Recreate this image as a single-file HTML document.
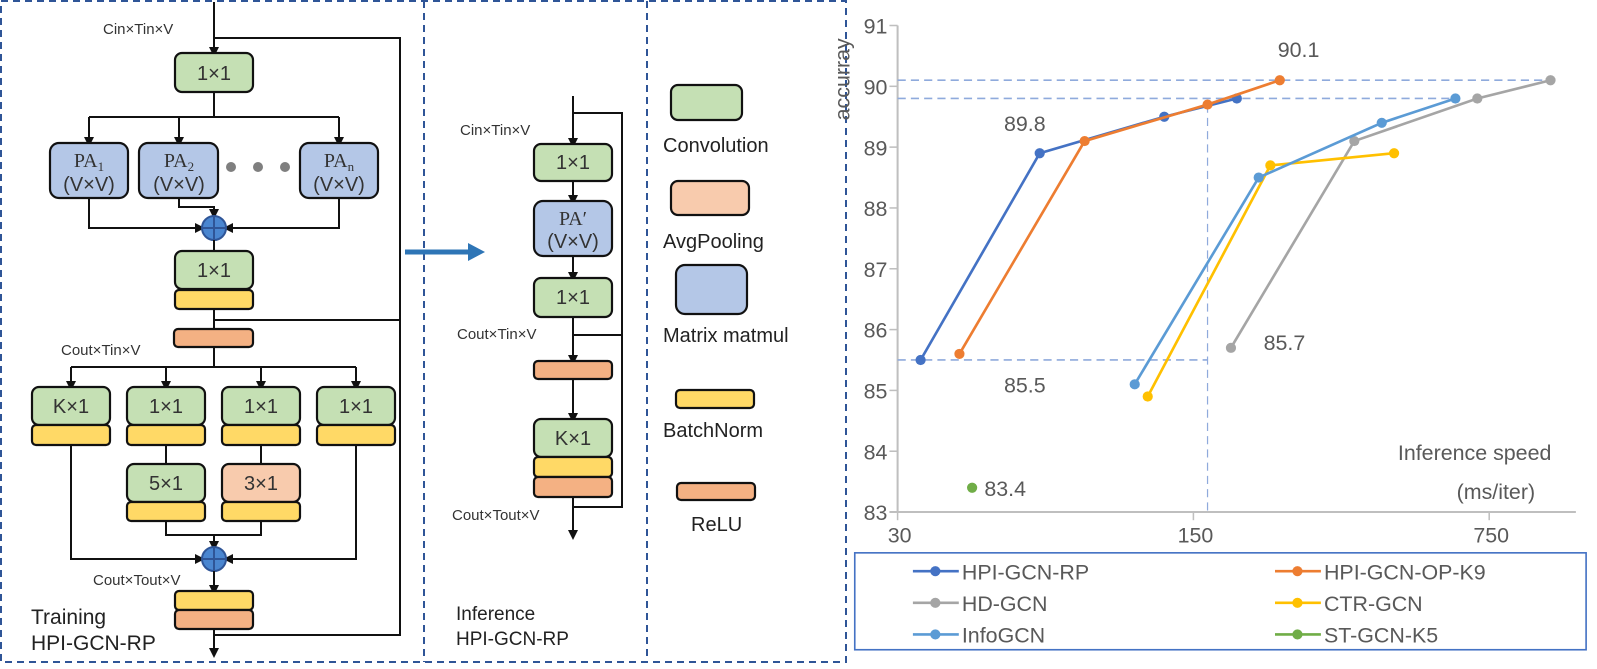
<!DOCTYPE html>
<html><head><meta charset="utf-8"><style>
html,body{margin:0;padding:0;background:#fff;}
svg{display:block;font-family:"Liberation Sans",sans-serif;}
.box{stroke:#111;stroke-width:2.2;}
.ln{stroke:#111;stroke-width:2;fill:none;}
.lab{font-size:15px;fill:#333;}
.bl{font-size:20px;fill:#333;text-anchor:middle;}
.ct{fill:#595959;font-size:21px;}
</style></head><body>
<svg id="fig" width="1597" height="669" viewBox="0 0 1597 669" xmlns="http://www.w3.org/2000/svg">
<defs><marker id="ar" markerWidth="10" markerHeight="10" refX="5" refY="5" orient="auto" markerUnits="userSpaceOnUse"><path d="M0,0 L10,5 L0,10 z" fill="#111"/></marker></defs>
<g fill="none" stroke="#2f5597" stroke-width="2" stroke-dasharray="7,5">
<rect x="1" y="1" width="845" height="661"/><line x1="424" y1="1" x2="424" y2="662"/><line x1="647" y1="1" x2="647" y2="662"/></g>

<g>
<line class="ln" x1="214" y1="2" x2="214" y2="52" marker-end="url(#ar)"/>
<polyline class="ln" points="214,38 400,38 400,635 214,635"/>
<text class="lab" x="103" y="34">Cin×Tin×V</text>
<rect class="box" x="175" y="53" width="78" height="39" rx="7" fill="#c5e0b4"/><text class="bl" x="214" y="80">1×1</text>
<line class="ln" x1="214" y1="92" x2="214" y2="117"/><line class="ln" x1="89" y1="117" x2="339" y2="117"/>
<line class="ln" x1="89" y1="117" x2="89" y2="142" marker-end="url(#ar)"/><line class="ln" x1="179" y1="117" x2="179" y2="142" marker-end="url(#ar)"/><line class="ln" x1="339" y1="117" x2="339" y2="142" marker-end="url(#ar)"/>
<rect class="box" x="50" y="143" width="78" height="55" rx="9" fill="#b4c7e7"/><text class="bl" x="89" y="167" font-family="Liberation Serif">PA<tspan font-size="13" dy="4">1</tspan></text><text class="bl" x="89" y="191" font-size="17">(V×V)</text>
<rect class="box" x="139" y="143" width="79" height="55" rx="9" fill="#b4c7e7"/><text class="bl" x="179" y="167" font-family="Liberation Serif">PA<tspan font-size="13" dy="4">2</tspan></text><text class="bl" x="179" y="191" font-size="17">(V×V)</text>
<rect class="box" x="300" y="143" width="78" height="55" rx="9" fill="#b4c7e7"/><text class="bl" x="339" y="167" font-family="Liberation Serif">PA<tspan font-size="13" dy="4">n</tspan></text><text class="bl" x="339" y="191" font-size="17">(V×V)</text>
<circle cx="231" cy="167" r="5" fill="#7f7f7f"/><circle cx="258" cy="167" r="5" fill="#7f7f7f"/><circle cx="285" cy="167" r="5" fill="#7f7f7f"/>
<polyline class="ln" points="89,198 89,228 200,228" marker-end="url(#ar)"/><polyline class="ln" points="339,198 339,228 228,228" marker-end="url(#ar)"/><polyline class="ln" points="179,198 179,207 214,207 214,214" marker-end="url(#ar)"/>
<circle cx="214" cy="228" r="12" fill="#4a86d0" stroke="#2f5597" stroke-width="2"/><line x1="202" y1="228" x2="226" y2="228" stroke="#2f5597" stroke-width="2"/><line x1="214" y1="216" x2="214" y2="240" stroke="#2f5597" stroke-width="2"/>
<line class="ln" x1="214" y1="240" x2="214" y2="251"/>
<rect class="box" x="175" y="251" width="78" height="38" rx="7" fill="#c5e0b4"/><text class="bl" x="214" y="277">1×1</text>
<rect class="box" x="175" y="290" width="78" height="19" rx="4" fill="#ffd966"/>
<line class="ln" x1="214" y1="309" x2="214" y2="329"/><line class="ln" x1="214" y1="320" x2="400" y2="320"/>
<rect class="box" x="174" y="329" width="79" height="18" rx="4" fill="#f4b183"/>
<text class="lab" x="61" y="355">Cout×Tin×V</text>
<line class="ln" x1="214" y1="347" x2="214" y2="367"/><line class="ln" x1="71" y1="367" x2="356" y2="367"/>
<line class="ln" x1="71" y1="367" x2="71" y2="386" marker-end="url(#ar)"/><line class="ln" x1="166" y1="367" x2="166" y2="386" marker-end="url(#ar)"/><line class="ln" x1="261" y1="367" x2="261" y2="386" marker-end="url(#ar)"/><line class="ln" x1="356" y1="367" x2="356" y2="386" marker-end="url(#ar)"/>
<rect class="box" x="32" y="387" width="78" height="38" rx="7" fill="#c5e0b4"/><text class="bl" x="71" y="413">K×1</text><rect class="box" x="32" y="425" width="78" height="20" rx="4" fill="#ffd966"/>
<rect class="box" x="127" y="387" width="78" height="38" rx="7" fill="#c5e0b4"/><text class="bl" x="166" y="413">1×1</text><rect class="box" x="127" y="425" width="78" height="20" rx="4" fill="#ffd966"/>
<rect class="box" x="222" y="387" width="78" height="38" rx="7" fill="#c5e0b4"/><text class="bl" x="261" y="413">1×1</text><rect class="box" x="222" y="425" width="78" height="20" rx="4" fill="#ffd966"/>
<rect class="box" x="317" y="387" width="78" height="38" rx="7" fill="#c5e0b4"/><text class="bl" x="356" y="413">1×1</text><rect class="box" x="317" y="425" width="78" height="20" rx="4" fill="#ffd966"/>
<line class="ln" x1="166" y1="445" x2="166" y2="464"/><line class="ln" x1="261" y1="445" x2="261" y2="464"/>
<rect class="box" x="127" y="464" width="78" height="38" rx="7" fill="#c5e0b4"/><text class="bl" x="166" y="490">5×1</text><rect class="box" x="127" y="502" width="78" height="19" rx="4" fill="#ffd966"/>
<rect class="box" x="222" y="464" width="78" height="38" rx="7" fill="#f8cbad"/><text class="bl" x="261" y="490">3×1</text><rect class="box" x="222" y="502" width="78" height="19" rx="4" fill="#ffd966"/>
<polyline class="ln" points="166,521 166,535 261,535 261,521"/><line class="ln" x1="214" y1="535" x2="214" y2="546" marker-end="url(#ar)"/>
<polyline class="ln" points="71,445 71,559 200,559" marker-end="url(#ar)"/><polyline class="ln" points="356,445 356,559 228,559" marker-end="url(#ar)"/>
<circle cx="214" cy="559" r="12" fill="#4a86d0" stroke="#2f5597" stroke-width="2"/><line x1="202" y1="559" x2="226" y2="559" stroke="#2f5597" stroke-width="2"/><line x1="214" y1="547" x2="214" y2="571" stroke="#2f5597" stroke-width="2"/>
<line class="ln" x1="214" y1="571" x2="214" y2="590" marker-end="url(#ar)"/>
<text class="lab" x="93" y="585">Cout×Tout×V</text>
<rect class="box" x="175" y="591" width="78" height="19" rx="4" fill="#ffd966"/><rect class="box" x="175" y="610" width="78" height="19" rx="4" fill="#f4b183"/>
<line class="ln" x1="214" y1="629" x2="214" y2="653" marker-end="url(#ar)"/>
<text x="31" y="624" font-size="21" fill="#222">Training</text><text x="31" y="650" font-size="21" fill="#222">HPI-GCN-RP</text>
</g>

<g><line x1="405" y1="252" x2="470" y2="252" stroke="#2e75b6" stroke-width="5"/><path d="M468,243 L485,252 L468,261 z" fill="#2e75b6"/></g>

<g>
<line class="ln" x1="573" y1="96" x2="573" y2="143" marker-end="url(#ar)"/>
<polyline class="ln" points="573,113 622,113 622,507 573,507"/>
<text class="lab" x="460" y="135">Cin×Tin×V</text>
<rect class="box" x="534" y="144" width="78" height="37" rx="7" fill="#c5e0b4"/><text class="bl" x="573" y="169">1×1</text>
<line class="ln" x1="573" y1="181" x2="573" y2="200" marker-end="url(#ar)"/>
<rect class="box" x="534" y="201" width="78" height="55" rx="9" fill="#b4c7e7"/><text class="bl" x="573" y="225" font-family="Liberation Serif">PA′</text><text class="bl" x="573" y="248" font-size="17">(V×V)</text>
<line class="ln" x1="573" y1="256" x2="573" y2="277" marker-end="url(#ar)"/>
<rect class="box" x="534" y="278" width="78" height="39" rx="7" fill="#c5e0b4"/><text class="bl" x="573" y="304">1×1</text>
<line class="ln" x1="573" y1="317" x2="573" y2="360" marker-end="url(#ar)"/><line class="ln" x1="573" y1="335" x2="622" y2="335"/>
<text class="lab" x="457" y="339">Cout×Tin×V</text>
<rect class="box" x="534" y="361" width="78" height="18" rx="4" fill="#f4b183"/>
<line class="ln" x1="573" y1="379" x2="573" y2="418" marker-end="url(#ar)"/>
<rect class="box" x="534" y="419" width="78" height="38" rx="7" fill="#c5e0b4"/><text class="bl" x="573" y="445">K×1</text>
<rect class="box" x="534" y="457" width="78" height="20" rx="4" fill="#ffd966"/><rect class="box" x="534" y="477" width="78" height="20" rx="4" fill="#f4b183"/>
<line class="ln" x1="573" y1="497" x2="573" y2="535" marker-end="url(#ar)"/>
<text class="lab" x="452" y="520">Cout×Tout×V</text>
<text x="456" y="620" font-size="19" fill="#222">Inference</text><text x="456" y="645" font-size="19" fill="#222">HPI-GCN-RP</text>
</g>

<g>
<rect class="box" x="671" y="85" width="71" height="35" rx="7" fill="#c5e0b4"/><text x="663" y="152" font-size="20" fill="#222">Convolution</text>
<rect class="box" x="671" y="181" width="78" height="34" rx="7" fill="#f8cbad"/><text x="663" y="248" font-size="20" fill="#222">AvgPooling</text>
<rect class="box" x="676" y="265" width="71" height="49" rx="9" fill="#b4c7e7"/><text x="663" y="342" font-size="20" fill="#222">Matrix matmul</text>
<rect class="box" x="676" y="390" width="78" height="18" rx="4" fill="#ffd966"/><text x="663" y="437" font-size="20" fill="#222">BatchNorm</text>
<rect class="box" x="677" y="483" width="78" height="17" rx="4" fill="#f4b183"/><text x="691" y="531" font-size="20" fill="#222">ReLU</text>
</g>

<g id="chart" transform="scale(1.02)"></g>
</svg>
<script>
const seriesNames=["HPI-GCN-RP","HPI-GCN-OP-K9","HD-GCN","CTR-GCN","InfoGCN","ST-GCN-K5"];
const seriesColors=["#4472c4","#ed7d31","#a5a5a5","#ffc000","#5b9bd5","#70ad47"];
const hpiRpSpeed=[34,65,128,190];
const hpiRpAcc=[85.5,88.9,89.5,89.8];
const hpiOpSpeed=[42,83,162,240];
const hpiOpAcc=[85.6,89.1,89.7,90.1];
const hdSpeed=[184,360,703,1047];
const hdAcc=[85.7,89.1,89.8,90.1];
const ctrSpeed=[117,228,447];
const ctrAcc=[84.9,88.7,88.9];
const infoSpeed=[109,214,418,624];
const infoAcc=[85.1,88.5,89.4,89.8];
const stSpeed=[45];
const stAcc=[83.4];
const yTicks=[83,84,85,86,87,88,89,90,91];
const xTicks=[30,150,750];
const annotations=[["90.1",240,90.1],["89.8",65,89.8],["85.5",65,85.5],["85.7",184,85.7],["83.4",45,83.4]];
const annDx={"90.1":-2,"89.8":-35,"85.5":-35,"85.7":32,"83.4":12};
const annDy={"90.1":-23,"89.8":32,"85.5":32,"85.7":2,"83.4":8};
const NS="http://www.w3.org/2000/svg";
const g=document.getElementById('chart');
const X0=880,X1=1545,Y0=502,Y1=25;
function xs(v){return X0+290*Math.log(v/30)/Math.log(5);}
function ys(v){return Y0-(v-83)*(Y0-Y1)/8;}
function mk(t,a,p){const e=document.createElementNS(NS,t);for(const k in a)e.setAttribute(k,a[k]);(p||g).appendChild(e);return e;}
const ax=mk('line',{x1:X0,y1:Y1,x2:X0,y2:Y0,stroke:'#bfbfbf','stroke-width':2});


const bx=mk('line',{x1:X0-8,y1:Y0,x2:X1,y2:Y0,stroke:'#bfbfbf','stroke-width':2});


yTicks.forEach(v=>{const t=mk('text',{x:870,y:ys(v)+8,'text-anchor':'end',class:'ct'});t.textContent=v;


mk('line',{x1:X0-8,y1:ys(v),x2:X0,y2:ys(v),stroke:'#bfbfbf','stroke-width':1.5});});
xTicks.forEach(v=>{const t=mk('text',{x:xs(v)+2,y:532,'text-anchor':'middle',class:'ct'});t.textContent=v;


mk('line',{x1:xs(v),y1:Y0,x2:xs(v),y2:Y0+8,stroke:'#bfbfbf','stroke-width':1.5});});
const dashAttrs={stroke:'#8faadc','stroke-width':1.6,'stroke-dasharray':'8,5'};
function dl(x1,y1,x2,y2,w){const l=mk('line',Object.assign({x1,y1,x2,y2},dashAttrs));if(w)l.setAttribute('stroke-width',w);

}
dl(X0,ys(hpiOpAcc[3]),xs(hdSpeed[3]),ys(hpiOpAcc[3]));
dl(X0,ys(hpiRpAcc[3]),xs(infoSpeed[3]),ys(hpiRpAcc[3]));
dl(X0,ys(hpiRpAcc[0]),xs(hpiOpSpeed[2]),ys(hpiRpAcc[0]));
dl(xs(hpiOpSpeed[2]),ys(hpiOpAcc[2]),xs(hpiOpSpeed[2]),Y0,1.2);
const all=[[hpiRpSpeed,hpiRpAcc],[hpiOpSpeed,hpiOpAcc],[hdSpeed,hdAcc],[ctrSpeed,ctrAcc],[infoSpeed,infoAcc],[stSpeed,stAcc]];
const order=[2,3,4,0,1,5];
order.forEach(i=>{const [sx,sy]=all[i];const c=seriesColors[i];
const pts=sx.map((v,j)=>xs(v)+','+ys(sy[j])).join(' ');
if(sx.length>1){const pl=mk('polyline',{points:pts,fill:'none',stroke:c,'stroke-width':2.6});

}
sx.forEach((v,j)=>{const p=mk('circle',{cx:xs(v),cy:ys(sy[j]),r:5,fill:c});

});});
annotations.forEach(a=>{const t=mk('text',{x:xs(a[1])+annDx[a[0]],y:ys(a[2])+annDy[a[0]],class:'ct'});t.textContent=a[0];

});
const yt=mk('text',{x:0,y:0,class:'ct',transform:'translate(833,118) rotate(-90)','font-size':'24'});yt.textContent='accurray';


const x1t=mk('text',{x:1521,y:451,'text-anchor':'end',class:'ct','font-size':'24'});x1t.textContent='Inference speed';


const x2t=mk('text',{x:1505,y:489,'text-anchor':'end',class:'ct','font-size':'24'});x2t.textContent='(ms/iter)';


const lb=mk('rect',{x:838,y:542,width:717,height:95,fill:'none',stroke:'#4472c4','stroke-width':1.6});


seriesNames.forEach((n,i)=>{const col=i%2,row=Math.floor(i/2);const lx=col?1250:895,ly=560+row*31;
const l=mk('line',{x1:lx,y1:ly,x2:lx+45,y2:ly,stroke:seriesColors[i],'stroke-width':2.6});


mk('circle',{cx:lx+22,cy:ly,r:5,fill:seriesColors[i]});
const t=mk('text',{x:lx+48,y:ly+8,class:'ct'});t.textContent=n;

});
</script>
</body></html>
